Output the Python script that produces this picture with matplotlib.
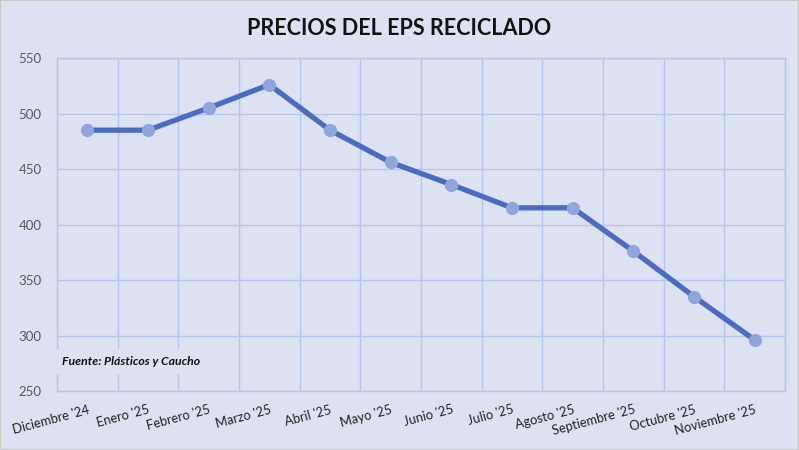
import matplotlib.pyplot as plt

# Data
meses = ["Diciembre '24", "Enero '25", "Febrero '25", "Marzo '25", "Abril '25",
         "Mayo '25", "Junio '25", "Julio '25", "Agosto '25", "Septiembre '25",
         "Octubre '25", "Noviembre '25"]
precios = [485, 485, 505, 526, 485, 456, 436, 415, 415, 376, 335, 296]
y_ticks = [250, 300, 350, 400, 450, 500, 550]

bg = '#dde2f3'
grid_c = '#b4c6ea'

plt.rcParams['font.family'] = ['Lato', 'DejaVu Sans']

fig = plt.figure(figsize=(7.99, 4.5), dpi=100, facecolor=bg)
ax = fig.add_axes([0.0713, 0.1311, 0.9112, 0.74])
ax.set_facecolor(bg)

x = list(range(len(meses)))
ax.plot(x, precios, color='#4a6dc4', linewidth=3.8, marker='o', markersize=8.5,
        markerfacecolor='#8fa6dc', markeredgecolor='#8fa6dc', zorder=3)

ax.set_xlim(-0.5, len(meses) - 0.5)
ax.set_ylim(250, 550)
ax.set_yticks(y_ticks)
ax.set_xticks(x)
ax.set_xticklabels(meses, rotation=15, ha='right', rotation_mode='anchor',
                   fontsize=9.3, color='#222222')
ax.set_xticks([i - 0.5 for i in range(len(meses) + 1)], minor=True)
ax.tick_params(axis='both', which='both', length=0)
ax.tick_params(axis='y', labelsize=9.5, labelcolor='#595959', pad=11)
ax.tick_params(axis='x', pad=9)

ax.grid(True, which='minor', axis='x', color=grid_c, linewidth=1)
ax.grid(True, which='major', axis='y', color=grid_c, linewidth=1)
ax.set_axisbelow(True)
for s in ax.spines.values():
    s.set_color(grid_c)
    s.set_linewidth(1)

ax.text(0.007, 0.09, 'Fuente: Plásticos y Caucho', transform=ax.transAxes,
        fontsize=8.8, fontweight='bold', fontstyle='italic', color='#111111',
        va='center', ha='left', zorder=4,
        bbox=dict(facecolor=bg, edgecolor='none', pad=5))

fig.text(0.5, 0.937, 'PRECIOS DEL EPS RECICLADO', ha='center', va='center',
         fontsize=15.5, fontweight='bold', color='#111111')

fig.patches.append(plt.Rectangle((0, 0), 1, 1, transform=fig.transFigure,
                                 fill=False, edgecolor='#c8c8c8', linewidth=1.5))

plt.savefig('out.png', dpi=100, facecolor=bg)
